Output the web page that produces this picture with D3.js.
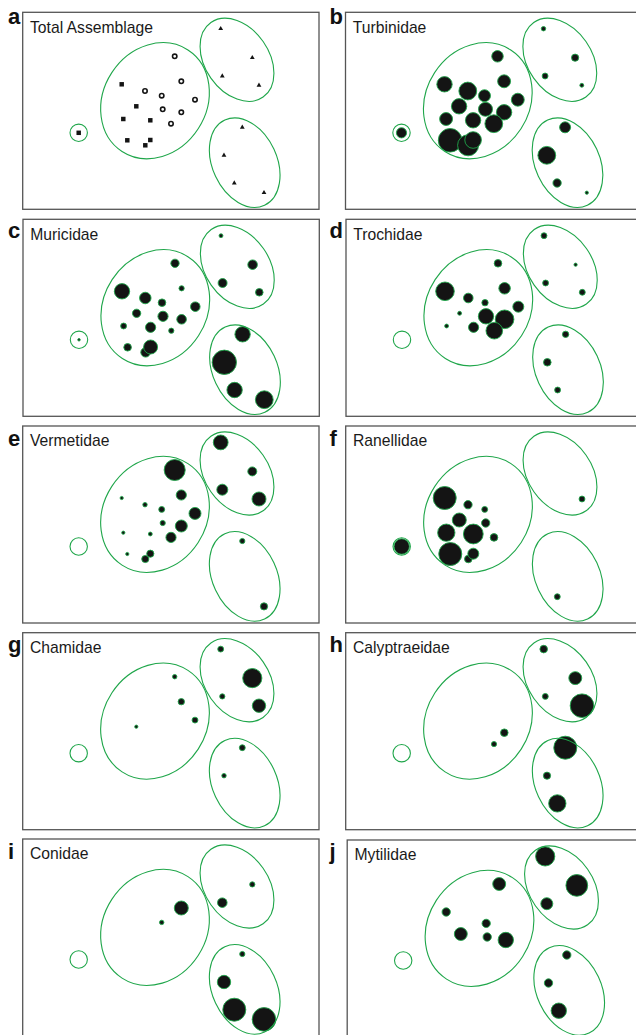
<!DOCTYPE html>
<html>
<head>
<meta charset="utf-8">
<script src="https://cdn.jsdelivr.net/npm/d3@7"></script>
<style>
  html, body { margin: 0; padding: 0; background: #fff; }
  svg { display: block; }
</style>
</head>
<body>
<div id="chart"></div>
<script>
/* =========================================
   Ordination panels — sample groups (hulls)
   with family abundance bubbles
   ========================================= */

// ---- Sites: ordination scores (axis 1 / axis 2) ----
const siteKind = ['sq', 'sq', 'sq', 'sq', 'sq', 'sq', 'sq', 'sq',
  'ci', 'ci', 'ci', 'ci', 'ci', 'ci', 'ci', 'ci',
  'tr', 'tr', 'tr', 'tr', 'tr', 'tr', 'tr', 'tr'];
const axis1 = [-0.92, -0.49, -0.344, -0.474, -0.204, -0.434, -0.254, -0.204,
  0.04, 0.106, -0.257, -0.09, 0.243, -0.08, 0.106, 0.003,
  0.5, 0.816, 0.516, 0.883, 0.716, 0.533, 0.636, 0.933];
const axis2 = [-0.22, 0.265, 0.045, -0.082, -0.095, -0.295, -0.345, -0.292,
  0.545, 0.295, 0.198, 0.151, 0.111, 0.015, -0.015, -0.129,
  0.821, 0.531, 0.348, 0.255, -0.165, -0.445, -0.722, -0.819];

// ---- Group hulls (ellipses) ----
const hullCx = [-0.92, -0.157, 0.663, 0.74];
const hullCy = [-0.22, 0.101, 0.51, -0.519];
const hullA = [0.087, 0.605, 0.455, 0.47];
const hullB = [0.087, 0.515, 0.319, 0.322];
const hullAngle = [0, 33, -35, -25];

// ---- Panels ----
const panelLetters = ['a', 'b', 'c', 'd', 'e', 'f', 'g', 'h', 'i', 'j'];
const panelTitles = ['Total Assemblage', 'Turbinidae', 'Muricidae', 'Trochidae', 'Vermetidae',
  'Ranellidae', 'Chamidae', 'Calyptraeidae', 'Conidae', 'Mytilidae'];

// ---- Family abundances per site (same order as the scores) ----
const turbinidae = [18, 41, 41, 29, 41, 97, 77, 48, 23, 29, 55, 25, 29, 34, 41, 55, 3.4, 9, 6, 2.6, 21, 55, 12, 1.8];
const muricidae = [1.1, 41, 12, 6, 18, 10, 16, 34, 12, 4.7, 23, 10, 16, 18, 16, 4.7, 2.6, 16, 14, 10, 41, 103, 41, 55];
const trochidae = [0, 60, 2.6, 2.6, 18, 0, 0, 0, 10, 23, 16, 7, 21, 41, 60, 48, 6, 1.8, 6, 6, 7, 10, 6, 0];
const vermetidae = [0, 1.8, 0, 1.8, 2.6, 1.8, 9, 9, 77, 18, 3.4, 6, 25, 4.7, 25, 18, 38, 14, 21, 34, 4.7, 0, 0, 9];
const ranellidae = [41, 92, 34, 52, 68, 92, 10, 21, 0, 0, 12, 6, 0, 12, 0, 10, 0, 0, 0, 6, 0, 0, 6, 0];
const chamidae = [0, 0, 1.8, 0, 0, 0, 0, 0, 3.4, 7, 0, 0, 6, 0, 0, 0, 6, 64, 4.7, 31, 6, 3.4, 0, 0];
const calyptraeidae = [0, 0, 0, 0, 0, 0, 0, 0, 0, 0, 0, 0, 0, 0, 10, 4.7, 10, 29, 6, 97, 92, 9, 52, 0];
const conidae = [0, 0, 0, 0, 0, 0, 0, 0, 0, 34, 0, 3.4, 0, 0, 0, 0, 0, 4.7, 16, 0, 4.7, 31, 92, 97];
const mytilidae = [0, 12, 29, 0, 0, 0, 0, 0, 29, 0, 0, 12, 0, 12, 41, 0, 64, 82, 25, 0, 12, 12, 41, 0];

const familyValues = [null, turbinidae, muricidae, trochidae, vermetidae,
  ranellidae, chamidae, calyptraeidae, conidae, mytilidae];

// ---- Layout ----
const W = 636, H = 1035;
const frameW = 296.3, frameH = 197;
const frameX = [22.7, 345.5, 23, 346, 22.7, 345.7, 22.7, 345.7, 22.7, 347.2];
const frameY = [12.3, 12.3, 219.3, 219.3, 426, 426, 632.7, 632.7, 839, 840];
const letterX = [8, 329.5];
const letterY = [24, 237.5, 446, 652, 858.5];

const GREEN = '#1fa64a';
const INK = '#141414';

const svg = d3.select('#chart').append('svg')
  .attr('width', W).attr('height', H)
  .attr('font-family', '"Liberation Sans", Arial, Helvetica, sans-serif');

const x = d3.scaleLinear().domain([-1.48, 1.483]).range([0, frameW]);
const y = d3.scaleLinear().domain([0.985, -0.985]).range([0, frameH]);
const r = d3.scaleSqrt().domain([0, 100]).range([0, 12]);

panelTitles.forEach((title, p) => {
  const col = p % 2, row = Math.floor(p / 2);
  const g = svg.append('g').attr('transform', `translate(${frameX[p]},${frameY[p]})`);

  // frame
  g.append('rect')
    .attr('width', frameW).attr('height', frameH)
    .attr('fill', '#fff')
    .attr('stroke', '#555').attr('stroke-width', 1.3);

  const vals = familyValues[p];

  if (!vals) {
    // total assemblage: group symbols
    const sites = d3.range(axis1.length);
    g.selectAll('.sym').data(sites.filter(i => siteKind[i] !== 'ci')).join('path')
      .attr('class', 'sym')
      .attr('transform', i => `translate(${x(axis1[i])},${y(axis2[i])})`)
      .attr('d', i => d3.symbol(siteKind[i] === 'sq' ? d3.symbolSquare : d3.symbolTriangle,
        siteKind[i] === 'sq' ? 20 : 10)())
      .attr('fill', INK);
    g.selectAll('.ring').data(sites.filter(i => siteKind[i] === 'ci')).join('circle')
      .attr('class', 'ring')
      .attr('cx', i => x(axis1[i])).attr('cy', i => y(axis2[i]))
      .attr('r', 2.2)
      .attr('fill', 'none').attr('stroke', INK).attr('stroke-width', 1.6);
  } else {
    const sites = d3.range(axis1.length).filter(i => vals[i] > 0);
    g.selectAll('.bubble').data(sites).join('circle')
      .attr('class', 'bubble')
      .attr('cx', i => x(axis1[i])).attr('cy', i => y(axis2[i]))
      .attr('r', i => r(vals[i]))
      .attr('fill', INK)
      .attr('stroke', GREEN).attr('stroke-width', 0.9);
  }

  // group hulls
  g.selectAll('.hull').data(d3.range(hullCx.length)).join('ellipse')
    .attr('class', 'hull')
    .attr('transform', k => `translate(${x(hullCx[k])},${y(hullCy[k])}) rotate(${hullAngle[k]})`)
    .attr('rx', k => x(hullB[k]) - x(0))
    .attr('ry', k => x(hullA[k]) - x(0))
    .attr('fill', 'none')
    .attr('stroke', GREEN).attr('stroke-width', 1.1);

  // title
  g.append('text')
    .attr('x', 7.3).attr('y', 20.3)
    .attr('font-size', '15.7px')
    .attr('fill', '#1a1a1a')
    .text(title);

  // panel letter
  svg.append('text')
    .attr('x', letterX[col]).attr('y', letterY[row])
    .attr('font-size', '22px').attr('font-weight', 'bold')
    .attr('fill', '#111')
    .text(panelLetters[p]);
});
</script>
</body>
</html>
